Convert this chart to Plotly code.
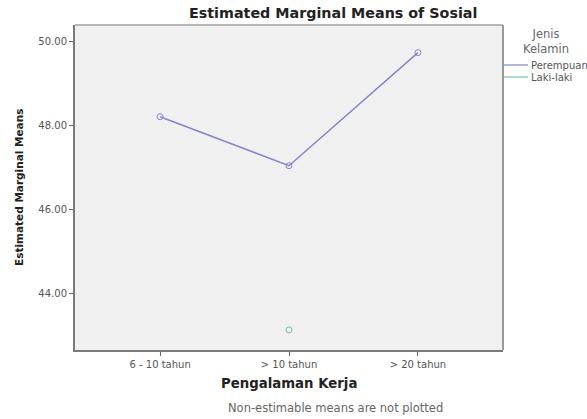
import plotly.graph_objects as go

categories = ["6 - 10 tahun", "> 10 tahun", "> 20 tahun"]
perempuan = [48.21, 47.04, 49.74]
laki_cats = ["> 10 tahun"]
laki = [43.12]
y_ticks = [44.0, 46.0, 48.0, 50.0]
y_tick_labels = ["44.00", "46.00", "48.00", "50.00"]
legend_names = ["Perempuan", "Laki-laki"]

PURPLE = "#8585c8"
GREEN = "#70c4a4"
FONT = "DejaVu Sans, Verdana, sans-serif"

FW, FH = 587, 419
L, R, T, B = 75, 503, 25, 350
W, H = R - L, B - T


def px(x):
    return (x - L) / W


def py(y):
    return (B - y) / H


fig = go.Figure()
fig.add_trace(go.Scatter(
    x=categories, y=perempuan, name=legend_names[0], mode="lines+markers",
    line=dict(color=PURPLE, width=1.5),
    marker=dict(symbol="circle-open", size=6, color=PURPLE, line=dict(width=1)),
))
fig.add_trace(go.Scatter(
    x=laki_cats, y=laki, name=legend_names[1], mode="lines+markers",
    line=dict(color=GREEN, width=1.5),
    marker=dict(symbol="circle-open", size=6, color=GREEN, line=dict(width=1)),
))

shapes = [
    dict(type="line", xref="paper", yref="paper", x0=0, x1=1, y0=1, y1=1,
         line=dict(color="#a0a0a0", width=1.5)),
    dict(type="line", xref="paper", yref="paper", x0=1, x1=1, y0=0, y1=1,
         line=dict(color="#999999", width=2)),
]
annotations = [
    dict(text="<b>Estimated Marginal Means of Sosial</b>", xref="paper", yref="paper",
         x=px(333), y=py(13), xanchor="center", yanchor="middle", showarrow=False,
         font=dict(size=14.3, color="#222222")),
    dict(text="<b>Estimated Marginal Means</b>", xref="paper", yref="paper",
         x=px(19), y=py(188), xanchor="center", yanchor="middle", showarrow=False,
         textangle=-90, font=dict(size=10.5, color="#222222")),
    dict(text="<b>Pengalaman Kerja</b>", xref="paper", yref="paper",
         x=px(289), y=py(383), xanchor="center", yanchor="middle", showarrow=False,
         font=dict(size=13.3, color="#222222")),
    dict(text="Non-estimable means are not plotted", xref="paper", yref="paper",
         x=px(335), y=py(408), xanchor="center", yanchor="middle", showarrow=False,
         font=dict(size=11.5, color="#666666")),
    dict(text="Jenis<br>Kelamin", xref="paper", yref="paper",
         x=px(546), y=py(42), xanchor="center", yanchor="middle", showarrow=False,
         align="center", font=dict(size=11.5, color="#666666")),
]
leg_colors = [PURPLE, GREEN]
leg_y = [65, 77]
for name, col, yy in zip(legend_names, leg_colors, leg_y):
    shapes.append(dict(type="line", xref="paper", yref="paper", x0=px(504), x1=px(528),
                       y0=py(yy), y1=py(yy), line=dict(color=col, width=1.2)))
    annotations.append(dict(text=name, xref="paper", yref="paper", x=px(529), y=py(yy),
                            xanchor="left", yanchor="middle", showarrow=False,
                            font=dict(size=10, color="#555555")))

fig.update_layout(
    width=FW, height=FH,
    margin=dict(l=L, r=FW - R, t=T, b=FH - B, autoexpand=False),
    paper_bgcolor="white", plot_bgcolor="#f0f0f0",
    font=dict(family=FONT, size=10, color="#555555"),
    showlegend=False,
    xaxis=dict(type="category", categoryorder="array", categoryarray=categories,
               range=[-0.66, 2.66], showgrid=False, zeroline=False, automargin=False,
               showline=True, linecolor="#7a7a7a", linewidth=2, mirror=False,
               ticks="outside", ticklen=4, tickcolor="#666666",
               tickfont=dict(size=10, color="#555555")),
    yaxis=dict(range=[42.64, 50.40], tickvals=y_ticks, ticktext=y_tick_labels,
               showgrid=False, zeroline=False, automargin=False,
               showline=True, linecolor="#7a7a7a", linewidth=2,
               ticks="outside", ticklen=4, tickcolor="#666666",
               tickfont=dict(size=10, color="#555555")),
    shapes=shapes,
    annotations=annotations,
)

fig.write_html("out.html", config={"displayModeBar": False},
               post_script="document.body.style.margin='0';")
